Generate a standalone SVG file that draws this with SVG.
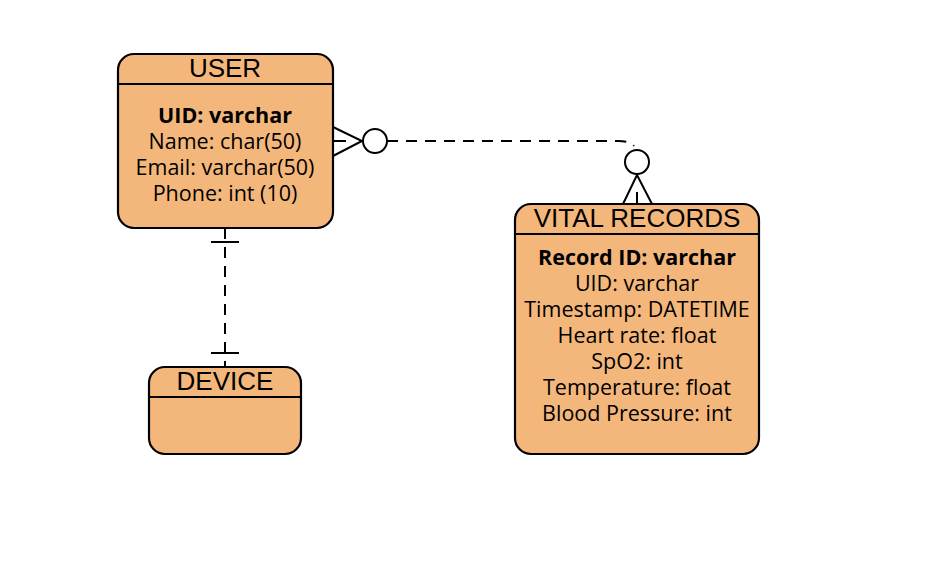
<svg xmlns="http://www.w3.org/2000/svg" width="935" height="567" viewBox="0 0 935 567">
<style>
.box{fill:#f4b77b;stroke:#000;stroke-width:2.2}
.sep{stroke:#000;stroke-width:2;fill:none}
.title{font-family:"Liberation Sans",Arial,sans-serif;font-size:26px;text-anchor:middle;fill:#000}
.attr{font-family:"Open Sans","Noto Sans",sans-serif;font-size:21.5px;text-anchor:middle;fill:#000}
.pk{font-weight:bold}
.ln{stroke:#000;stroke-width:2;fill:none}
.dash{stroke:#000;stroke-width:2;fill:none;stroke-dasharray:11 8}
.circ{fill:#fff;stroke:#000;stroke-width:2}
</style>
<rect width="935" height="567" fill="#fff"/>
<g id="connectors">
  <g id="user-vital">
    <path class="dash" d="M387,141 H618 Q630,141 634,146"/>
    <path class="ln" d="M333,127 L362,141 L333,156"/>
    <path class="ln" d="M333,141 H346"/>
    <circle class="circ" cx="375" cy="141" r="12"/>
    <circle class="circ" cx="637" cy="162" r="12"/>
    <path class="ln" d="M623,204 L637,175 L652,204"/>
    <path class="ln" d="M637,192 V204"/>
  </g>
  <g id="user-device">
    <path class="dash" d="M225,228 V367"/>
    <path class="ln" d="M211,242 H239 M211,353 H239"/>
  </g>
</g>
<g id="user">
  <rect class="box" x="118" y="54" width="215" height="174" rx="16"/>
  <path class="sep" d="M118,84 H333"/>
  <text class="title" x="225" y="77">USER</text>
  <text class="attr pk" x="225" y="123">UID: varchar</text>
  <text class="attr" x="225" y="149">Name: char(50)</text>
  <text class="attr" x="225" y="175">Email: varchar(50)</text>
  <text class="attr" x="225" y="201">Phone: int (10)</text>
</g>
<g id="device">
  <rect class="box" x="149" y="367" width="152" height="87" rx="16"/>
  <path class="sep" d="M149,397 H301"/>
  <text class="title" x="225" y="390">DEVICE</text>
</g>
<g id="vital-records">
  <rect class="box" x="515" y="204" width="244" height="250" rx="16"/>
  <path class="sep" d="M515,234 H759"/>
  <text class="title" x="637" y="227">VITAL RECORDS</text>
  <text class="attr pk" x="637" y="265">Record ID: varchar</text>
  <text class="attr" x="637" y="291">UID: varchar</text>
  <text class="attr" x="637" y="317">Timestamp: DATETIME</text>
  <text class="attr" x="637" y="343">Heart rate: float</text>
  <text class="attr" x="637" y="369">SpO2: int</text>
  <text class="attr" x="637" y="395">Temperature: float</text>
  <text class="attr" x="637" y="421">Blood Pressure: int</text>
</g>
</svg>
